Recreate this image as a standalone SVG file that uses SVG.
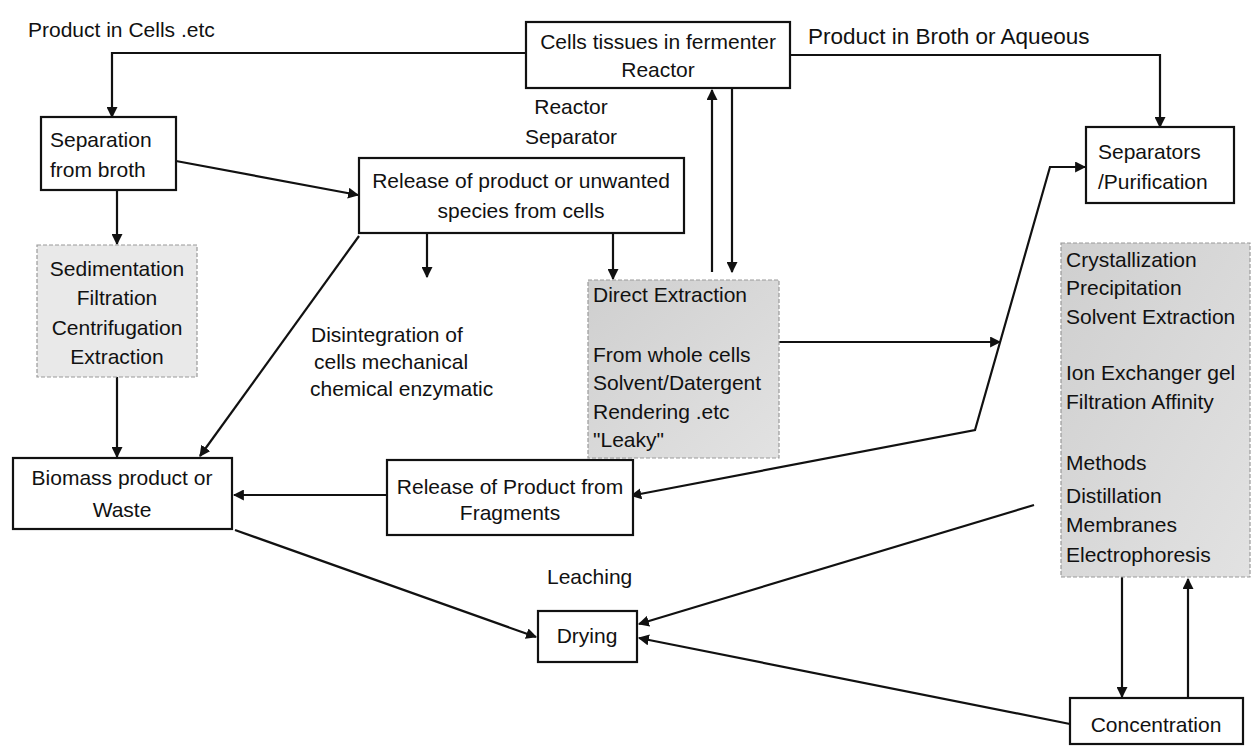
<svg xmlns="http://www.w3.org/2000/svg" width="1252" height="746" viewBox="0 0 1252 746">
<style>
text{font-family:"Liberation Sans",Arial,sans-serif;font-size:21px;fill:#111}
.c{text-anchor:middle}
.box{fill:#fff;stroke:#111;stroke-width:2.2}
.gray{fill:#d6d6d6;stroke:#9a9a9a;stroke-width:1.2;stroke-dasharray:4 2}
.light{fill:#e9e9e9;stroke:#9a9a9a;stroke-width:1.2;stroke-dasharray:4 2}
.ln{fill:none;stroke:#111;stroke-width:2.2}
.ar{marker-end:url(#ah)}
</style>
<defs>
<marker id="ah" viewBox="0 0 10 10" refX="9" refY="5" markerWidth="5" markerHeight="5" orient="auto" markerUnits="strokeWidth">
<path d="M0,0 L10,5 L0,10 z" fill="#111"/>
</marker>
<marker id="as" viewBox="0 0 10 10" refX="1" refY="5" markerWidth="5" markerHeight="5" orient="auto-start-reverse" markerUnits="strokeWidth">
<path d="M0,0 L10,5 L0,10 z" fill="#111"/>
</marker>
<linearGradient id="g1" x1="0" y1="0" x2="1" y2="1">
<stop offset="0" stop-color="#cfcfcf"/>
<stop offset="1" stop-color="#e2e2e2"/>
</linearGradient>
</defs>
<rect width="1252" height="746" fill="#fff"/>

<g id="labels">
<text x="28" y="37">Product in Cells .etc</text>
<text x="808" y="44" style="font-size:22.5px">Product in Broth or Aqueous</text>
<text class="c" x="571" y="114">Reactor</text>
<text class="c" x="571" y="144">Separator</text>
<text x="311" y="342">Disintegration of</text>
<text x="314" y="369">cells mechanical</text>
<text x="310" y="396">chemical enzymatic</text>
<text x="547" y="584">Leaching</text>
</g>

<g id="connectors">
<polyline class="ln ar" points="526,53 112,53 112,117"/>
<polyline class="ln ar" points="790,55 1160,55 1160,127"/>
<line class="ln ar" x1="176" y1="161" x2="358" y2="195"/>
<line class="ln ar" x1="117" y1="190" x2="117" y2="244"/>
<line class="ln ar" x1="117" y1="377" x2="117" y2="457"/>
<line class="ln ar" x1="359" y1="236" x2="200" y2="456"/>
<line class="ln ar" x1="427" y1="233" x2="427" y2="277"/>
<line class="ln ar" x1="613" y1="233" x2="613" y2="279"/>
<line class="ln ar" x1="712" y1="272" x2="712" y2="90"/>
<line class="ln ar" x1="732" y1="88" x2="732" y2="272"/>
<line class="ln ar" x1="779" y1="342" x2="1000" y2="342"/>
<polyline class="ln ar" style="marker-start:url(#as)" points="640,494 975,430 1050,167 1085,167"/>
<line class="ln ar" x1="387" y1="495" x2="234" y2="495"/>
<line class="ln ar" x1="235" y1="530" x2="536" y2="637"/>
<line class="ln ar" x1="1034" y1="505" x2="639" y2="624"/>
<line class="ln ar" x1="1070" y1="724" x2="639" y2="638"/>
<line class="ln ar" x1="1122" y1="577" x2="1122" y2="697"/>
<line class="ln ar" x1="1188" y1="698" x2="1188" y2="579"/>
</g>

<g id="cells">
<rect class="box" x="526" y="22" width="264" height="66"/>
<text class="c" x="658" y="49">Cells tissues in fermenter</text>
<text class="c" x="658" y="77">Reactor</text>
</g>
<g id="separation">
<rect class="box" x="41" y="117" width="135" height="73"/>
<text x="50" y="147">Separation</text>
<text x="50" y="177">from broth</text>
</g>
<g id="release">
<rect class="box" x="359" y="158" width="325" height="75"/>
<text class="c" x="521" y="188">Release of product or unwanted</text>
<text class="c" x="521" y="218">species from cells</text>
</g>
<g id="sedimentation">
<rect class="light" x="37" y="245" width="160" height="132"/>
<text class="c" x="117" y="276">Sedimentation</text>
<text class="c" x="117" y="305">Filtration</text>
<text class="c" x="117" y="335">Centrifugation</text>
<text class="c" x="117" y="364">Extraction</text>
</g>
<g id="biomass">
<rect class="box" x="13" y="458" width="219" height="71"/>
<text class="c" x="122" y="485">Biomass product or</text>
<text class="c" x="122" y="517">Waste</text>
</g>
<g id="direct">
<rect class="gray" x="588" y="280" width="191" height="178" fill="url(#g1)" style="fill:url(#g1)"/>
<text x="593" y="302">Direct Extraction</text>
<text x="593" y="362">From whole cells</text>
<text x="593" y="390">Solvent/Datergent</text>
<text x="593" y="419">Rendering .etc</text>
<text x="593" y="447">"Leaky"</text>
</g>
<g id="fragments">
<rect class="box" x="387" y="460" width="246" height="75"/>
<text class="c" x="510" y="494">Release of Product from</text>
<text class="c" x="510" y="520">Fragments</text>
</g>
<g id="drying">
<rect class="box" x="538" y="611" width="99" height="51"/>
<text class="c" x="587" y="643">Drying</text>
</g>
<g id="separators">
<rect class="box" x="1086" y="127" width="148" height="76"/>
<text x="1098" y="159">Separators</text>
<text x="1098" y="189">/Purification</text>
</g>
<g id="methods">
<rect class="gray" x="1061" y="243" width="189" height="334" style="fill:url(#g1)"/>
<text x="1066" y="267">Crystallization</text>
<text x="1066" y="295">Precipitation</text>
<text x="1066" y="324">Solvent Extraction</text>
<text x="1066" y="380">Ion Exchanger gel</text>
<text x="1066" y="409">Filtration Affinity</text>
<text x="1066" y="470">Methods</text>
<text x="1066" y="503">Distillation</text>
<text x="1066" y="532">Membranes</text>
<text x="1066" y="562">Electrophoresis</text>
</g>
<g id="concentration">
<rect class="box" x="1070" y="698" width="173" height="46"/>
<text class="c" x="1156" y="732">Concentration</text>
</g>
</svg>
